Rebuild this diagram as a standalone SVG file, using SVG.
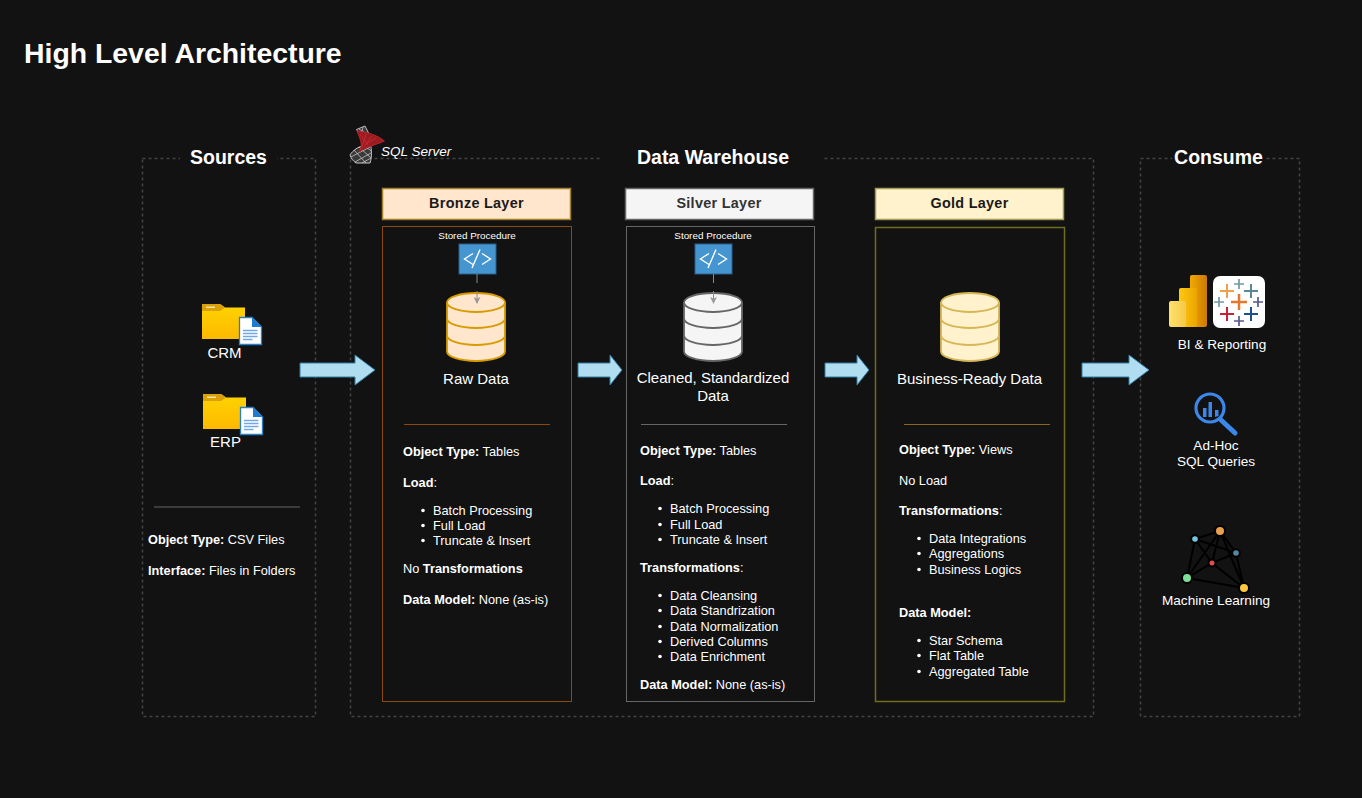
<svg xmlns="http://www.w3.org/2000/svg" width="1362" height="798" viewBox="0 0 1362 798">
<style>
text{font-family:"Liberation Sans",Arial,sans-serif;fill:#fff;font-size:12.75px}
.b{font-weight:bold}
.m{text-anchor:middle}
.h{font-size:19.5px;font-weight:bold;text-anchor:middle}
.l{font-size:15px;text-anchor:middle}
.c{font-size:13.6px;text-anchor:middle}
.lay{font-size:14.4px;font-weight:bold;text-anchor:middle;fill:#1a1a1a;letter-spacing:.3px}
.sp{font-size:9.9px;text-anchor:middle}
.dash{fill:none;stroke:#444;stroke-width:1.500;stroke-dasharray:3 3}
.arrow{fill:#b1ddf0;stroke:#2f7ea3;stroke-width:1}
.sep{stroke-width:1;fill:none}
.edge{stroke:#000;stroke-width:2;fill:none}
.node{stroke:#000;stroke-width:2}
.line{fill:none}
.dot{fill:#fff}
</style>
<defs>
<linearGradient id="fg" x1="0" y1="0" x2="0" y2="1"><stop offset="0" stop-color="#ffd400"/><stop offset="1" stop-color="#fdb900"/></linearGradient>
<linearGradient id="pb1" x1="0" y1="0" x2="1" y2="0"><stop offset="0" stop-color="#ffe26b"/><stop offset="1" stop-color="#f5c84a"/></linearGradient>
<linearGradient id="pb2" x1="0" y1="0" x2="1" y2="0"><stop offset="0" stop-color="#fdc910"/><stop offset="1" stop-color="#eda500"/></linearGradient>
<linearGradient id="pb3" x1="0" y1="0" x2="1" y2="0"><stop offset="0" stop-color="#f2a900"/><stop offset="1" stop-color="#cc7a00"/></linearGradient>
<g id="folder">
<path d="M0 1a1 1 0 0 1 1-1h17l5 3.500h20v31.500H0z" fill="url(#fg)"/>
<path d="M0 1a1 1 0 0 1 1-1h17l5 3.500 -5 3.500H0z" fill="#d9a008"/>
<rect x="4" y="2.500" width="9" height="1.500" fill="#f6e3a0"/>
<path d="M37.500 13.500h12.500l9.500 9.500v17.500h-22z" fill="#fff" stroke="#2a7fc9" stroke-width="1.300"/>
<path d="M50 13.500l9.500 9.500h-9.500z" fill="#1e7bd1"/>
<path d="M41 26.500h14.500M41 29.500h14.500M41 32.500h14.500M41 35.500h9.500" stroke="#6fa8e8" stroke-width="1.700"/>
</g>
<g id="code">
<rect x="0" y="0" width="37" height="30" fill="#4595d1" stroke="#2c5f8a" stroke-width="1"/>
<path d="M14 9.500L5.500 15l8.500 5.500M23 9.500L31.500 15 23 20.500M21 5.500L13 24" fill="none" stroke="#fff" stroke-width="1.400"/>
</g>
<g id="db">
<path d="M0 10A29 9.500 0 0 1 58 10V59A29 9.500 0 0 1 0 59Z"/>
<path class="line" d="M0 10A29 9.500 0 0 0 58 10M0 26A29 9.500 0 0 0 58 26M0 43A29 9.500 0 0 0 58 43"/>
</g>
<marker id="tip" viewBox="0 0 8 8" refX="7" refY="4" markerWidth="7" markerHeight="7" orient="auto" markerUnits="userSpaceOnUse"><path d="M0 0L8 4 0 8 2 4z" fill="#999"/></marker>
<path id="bigarrow" d="M0 -7H55V-15L75 0 55 15V7H0z"/>
<path id="smallarrow" d="M0 -7H32V-15L44 0 32 15V7H0z"/>
<path id="lastarrow" d="M0 -7H47V-15L67 0 47 15V7H0z"/>
</defs>
<rect width="1362" height="798" fill="#121212"/>
<text id="title" x="24" y="63" class="b" style="font-size:28.400px">High Level Architecture</text>

<g id="sources">
<rect class="dash" x="142.500" y="158.500" width="173" height="558"/>
<rect x="180" y="148" width="97" height="22" fill="#121212"/>
<text class="h" x="228.500" y="164">Sources</text>
<use href="#folder" x="202" y="304"/>
<text class="l" x="224.500" y="358">CRM</text>
<use href="#folder" x="203" y="394"/>
<text class="l" x="225.500" y="447">ERP</text>
<path d="M154 507H300" stroke="#4a4a4a" stroke-width="1.500"/>
<text x="148" y="544"><tspan class="b">Object Type:</tspan> CSV Files</text>
<text x="148" y="575"><tspan class="b">Interface:</tspan> Files in Folders</text>
</g>

<g id="warehouse">
<rect class="dash" x="350.500" y="158.500" width="743" height="558"/>
<rect x="602" y="148" width="222" height="22" fill="#121212"/>
<text class="h" x="713" y="164">Data Warehouse</text>
<g id="sqlserver">
<path d="M356.500 129.500L365 126 369 134 369 141 362 137Z" fill="#3a3a3a" stroke="#bdbdbd" stroke-width="1"/>
<path d="M359 129L367 134M363 127L361 136" stroke="#bdbdbd" stroke-width=".8"/>
<path d="M350 155C353 150 358 147 365 145L370 143C372 150 372 157 370 163L356 163C353 161 351 158 350 155Z" fill="#3a3a3a" stroke="#c4c4c4" stroke-width="1"/>
<path d="M354 150L366 163M359 147L371 158M364 145L371 151M351 157L370 147M355 162L371 153M362 163L371 158" stroke="#c4c4c4" stroke-width=".8"/>
<path d="M357 131C365 132 377 134 384 141 376 145 367 146 359 152 364 146 360 138 357 131Z" fill="#9a1b20" stroke="#b3222a" stroke-width="1.200"/>
<path d="M360 134L368 145M366 134L362 147M372 136L364 147M376 138L366 144" stroke="#d02a32" stroke-width=".8"/>
<text x="381" y="156" style="font-size:13.500px;font-style:italic">SQL Server</text>
</g>
</g>

<g id="bronze">
<rect x="382.500" y="188.500" width="188" height="31" fill="#ffe6cc" stroke="#a0812a" stroke-width="1.500"/>
<text class="lay" x="476.500" y="208">Bronze Layer</text>
<rect x="382.500" y="226.500" width="189" height="475" fill="none" stroke="#8a4b08" stroke-width="1"/>
<text class="sp" x="477" y="239">Stored Procedure</text>
<use href="#code" x="459" y="244"/>
<use href="#db" x="447" y="292.500" fill="#ffe6cc" stroke="#d79b00" stroke-width="1.800"/>
<path d="M477 274V303" stroke="#888" stroke-width="1" stroke-dasharray="9 8 13" marker-end="url(#tip)"/>
<text class="l" x="476" y="384">Raw Data</text>
<path class="sep" d="M404 424.500H550" stroke="#8a4b08"/>
<text x="403" y="456"><tspan class="b">Object Type:</tspan> Tables</text>
<text x="403" y="487"><tspan class="b">Load</tspan>:</text>
<text x="433" y="515">Batch Processing</text>
<text x="433" y="530">Full Load</text>
<text x="433" y="545">Truncate &amp; Insert</text>
<circle class="dot" cx="423" cy="510.500" r="1.800"/><circle class="dot" cx="423" cy="525.500" r="1.800"/><circle class="dot" cx="423" cy="540.500" r="1.800"/>
<text x="403" y="573">No <tspan class="b">Transformations</tspan></text>
<text x="403" y="604"><tspan class="b">Data Model:</tspan> None (as-is)</text>
</g>

<g id="silver">
<rect x="625.500" y="188.500" width="188" height="31" fill="#f5f5f5" stroke="#666" stroke-width="1.500"/>
<text class="lay" x="719" y="208" style="fill:#333">Silver Layer</text>
<rect x="626.500" y="226.500" width="188" height="475" fill="none" stroke="#666" stroke-width="1"/>
<text class="sp" x="713" y="239">Stored Procedure</text>
<use href="#code" x="695" y="244"/>
<use href="#db" x="684" y="292.500" fill="#f5f5f5" stroke="#666" stroke-width="1.800"/>
<path d="M713.500 274V303" stroke="#888" stroke-width="1" stroke-dasharray="9 8 13" marker-end="url(#tip)"/>
<text class="l" x="713" y="383">Cleaned, Standardized</text>
<text class="l" x="713" y="401">Data</text>
<path class="sep" d="M641 424.500H787" stroke="#666"/>
<text x="640" y="455"><tspan class="b">Object Type:</tspan> Tables</text>
<text x="640" y="485"><tspan class="b">Load</tspan>:</text>
<text x="670" y="513">Batch Processing</text>
<text x="670" y="529">Full Load</text>
<text x="670" y="544">Truncate &amp; Insert</text>
<circle class="dot" cx="660" cy="508.500" r="1.800"/><circle class="dot" cx="660" cy="524.500" r="1.800"/><circle class="dot" cx="660" cy="539.500" r="1.800"/>
<text x="640" y="572"><tspan class="b">Transformations</tspan>:</text>
<text x="670" y="600">Data Cleansing</text>
<text x="670" y="615">Data Standrization</text>
<text x="670" y="631">Data Normalization</text>
<text x="670" y="646">Derived Columns</text>
<text x="670" y="661">Data Enrichment</text>
<circle class="dot" cx="660" cy="595.500" r="1.800"/><circle class="dot" cx="660" cy="610.500" r="1.800"/><circle class="dot" cx="660" cy="626.500" r="1.800"/><circle class="dot" cx="660" cy="641.500" r="1.800"/><circle class="dot" cx="660" cy="656.500" r="1.800"/>
<text x="640" y="689"><tspan class="b">Data Model:</tspan> None (as-is)</text>
</g>

<g id="gold">
<rect x="875.500" y="188.500" width="188" height="31" fill="#fff2cc" stroke="#a39a55" stroke-width="1.500"/>
<text class="lay" x="969.500" y="208">Gold Layer</text>
<rect x="875.500" y="227.500" width="189" height="474" fill="none" stroke="#6e6e1e" stroke-width="1.500"/>
<use href="#db" x="941" y="292.500" fill="#fff2cc" stroke="#d6b656" stroke-width="1.800"/>
<text class="l" x="969.500" y="384">Business-Ready Data</text>
<path class="sep" d="M904 424.500H1050" stroke="#8a6a1a"/>
<text x="899" y="454"><tspan class="b">Object Type:</tspan> Views</text>
<text x="899" y="485">No Load</text>
<text x="899" y="515"><tspan class="b">Transformations</tspan>:</text>
<text x="929" y="543">Data Integrations</text>
<text x="929" y="558">Aggregations</text>
<text x="929" y="574">Business Logics</text>
<circle class="dot" cx="919" cy="538.500" r="1.800"/><circle class="dot" cx="919" cy="553.500" r="1.800"/><circle class="dot" cx="919" cy="569.500" r="1.800"/>
<text x="899" y="617" class="b">Data Model:</text>
<text x="929" y="645">Star Schema</text>
<text x="929" y="660">Flat Table</text>
<text x="929" y="676">Aggregated Table</text>
<circle class="dot" cx="919" cy="640.500" r="1.800"/><circle class="dot" cx="919" cy="655.500" r="1.800"/><circle class="dot" cx="919" cy="671.500" r="1.800"/>
</g>

<g id="consume">
<rect class="dash" x="1140.500" y="158.500" width="159" height="558"/>
<rect x="1172" y="148" width="93" height="22" fill="#121212"/>
<text class="h" x="1218.500" y="164">Consume</text>
<g id="bi">
<rect x="1190" y="275" width="17" height="52" rx="2" fill="url(#pb3)"/>
<rect x="1179" y="288" width="18" height="39" rx="2" fill="url(#pb2)"/>
<rect x="1169" y="301" width="17" height="26" rx="2" fill="url(#pb1)"/>
<rect x="1213" y="276" width="52" height="52" rx="7" fill="#fff"/>
<path d="M1239 294v16M1231 302h16" stroke="#e8762b" stroke-width="2.500"/>
<path d="M1227 284v14M1220 291h14" stroke="#f0a04a" stroke-width="2"/>
<path d="M1227 307v14M1220 314h14" stroke="#c72037" stroke-width="2"/>
<path d="M1251 284v14M1244 291h14" stroke="#5b879b" stroke-width="2"/>
<path d="M1251 307v14M1244 314h14" stroke="#1f4f8a" stroke-width="2"/>
<path d="M1239 279v10M1234 284h10" stroke="#7099a6" stroke-width="1.700"/>
<path d="M1219 297v10M1214 302h10" stroke="#7099a6" stroke-width="1.700"/>
<path d="M1258 297v10M1253 302h10" stroke="#59598c" stroke-width="1.700"/>
<path d="M1239 316v10M1234 321h10" stroke="#59598c" stroke-width="1.700"/>
</g>
<text x="1222" y="349" class="c">BI &amp; Reporting</text>
<g id="adhoc">
<circle cx="1210" cy="408" r="14" fill="none" stroke="#3b87ea" stroke-width="3.200"/>
<path d="M1221 420l14 13" stroke="#3b87ea" stroke-width="5" stroke-linecap="round"/>
<path d="M1203 408h3.500v9h-3.500zM1208.500 402h3.500v15h-3.500zM1215 410h3.500v6l-3.500 1z" fill="#3b87ea"/>
</g>
<text x="1216" y="450" class="c">Ad-Hoc</text>
<text x="1216" y="466" class="c">SQL Queries</text>
<g id="ml">
<path class="edge" d="M1195 539L1220 531 1236 553 1212 563 1187 578 1244 588 1236 553M1195 539L1236 553M1195 539L1212 563 1244 588M1195 539L1187 578 1220 531 1212 563M1220 531L1244 588"/>
<circle class="node" cx="1220" cy="531" r="5" fill="#eba04f"/>
<circle class="node" cx="1195" cy="539" r="3.800" fill="#74c8e6"/>
<circle class="node" cx="1236" cy="553" r="3.800" fill="#4f88a8"/>
<circle class="node" cx="1212" cy="563" r="3.500" fill="#e04c50"/>
<circle class="node" cx="1187" cy="578" r="5" fill="#7ddc96"/>
<circle class="node" cx="1244" cy="588" r="5" fill="#fbc640"/>
</g>
<text x="1216" y="605" class="c">Machine Learning</text>
</g>

<g id="connectors">
<use href="#bigarrow" class="arrow" x="300" y="370"/>
<use href="#smallarrow" class="arrow" x="578" y="370"/>
<use href="#smallarrow" class="arrow" x="825" y="370"/>
<use href="#lastarrow" class="arrow" x="1082" y="370"/>
</g>
</svg>
